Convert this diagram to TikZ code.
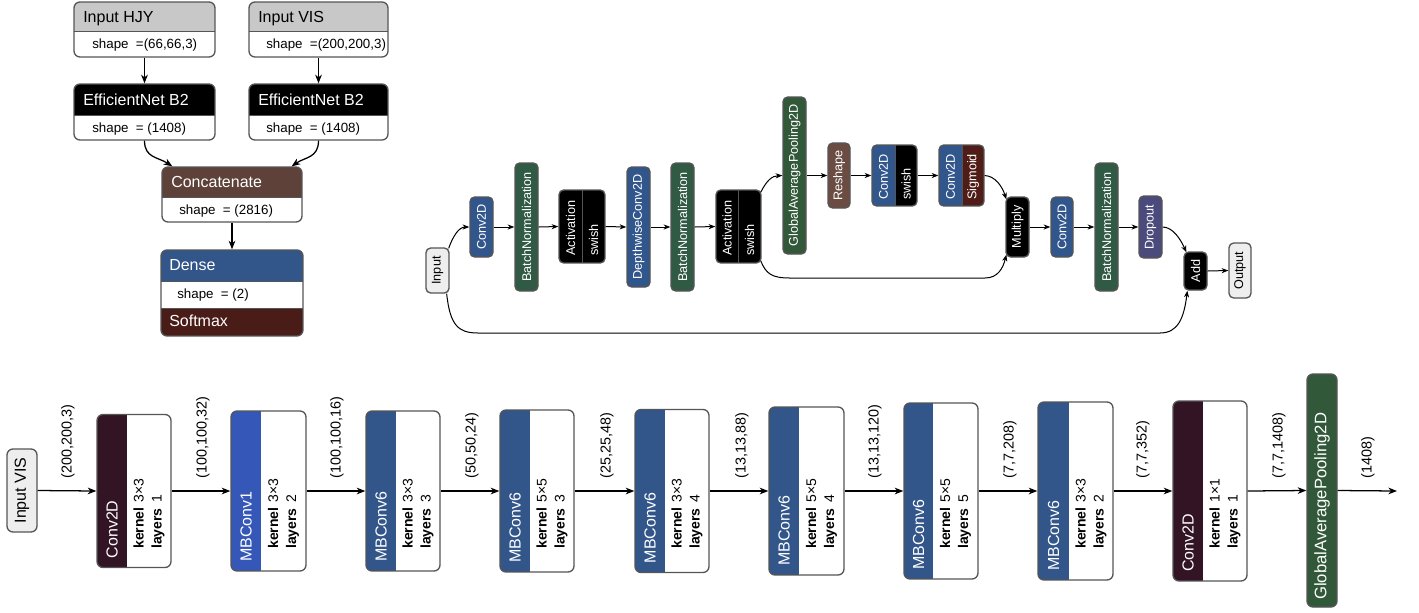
\documentclass[tikz,border=0pt]{standalone}
\usepackage{fontspec}
\setmainfont{Liberation Sans}
\usetikzlibrary{fit,arrows.meta,calc}
\definecolor{hdrgray}{HTML}{C8C8C8}
\definecolor{bordergray}{HTML}{555555}
\definecolor{concatbrown}{HTML}{5E4239}
\definecolor{denseblue}{HTML}{32558A}
\definecolor{softred}{HTML}{4A1C17}
\definecolor{midblue}{HTML}{31568C}
\definecolor{bngreen}{HTML}{305A44}
\definecolor{gapgreen}{HTML}{32583A}
\definecolor{reshapebrown}{HTML}{6B4C43}
\definecolor{sigred}{HTML}{4F1C17}
\definecolor{droppurple}{HTML}{4A4A7C}
\definecolor{iogray}{HTML}{EEEEEE}
\definecolor{convpurple}{HTML}{321424}
\definecolor{mboneblue}{HTML}{3558B8}
\definecolor{mbsixblue}{HTML}{32568A}

% top-left box: #1 name, #2 header colour, #3 x1, #4 y1, #5 x2, #6 y2, #7 split y
\newcommand\tlbox[7]{%
  \begin{scope}
    \clip[rounded corners=4.5pt] (#3,#4) rectangle (#5,#6);
    \fill[white] (#3,#4) rectangle (#5,#6);
    \fill[#2] (#3,#4) rectangle (#5,#7);
  \end{scope}
  \draw[sepline] (#3,#7) -- (#5,#7);
  \node[boxframe,rounded corners=4.5pt,fit={(#3,#4) (#5,#6)}] (#1) {};
}
% middle single box: #1 name, #2 colour, #3 x1, #4 y1, #5 x2, #6 y2, #7 text
\newcommand\mbx[7]{%
  \node[boxframe,rounded corners=3.5pt,fill=#2,fit={(#3,#4) (#5,#6)}] (#1) {};
  \node[midtxt] (#1-t) at (#1.center) {#7};
}
% middle two-part box: #1 name, #2 left colour, #3 right colour, #4 x1, #5 y1, #6 x2, #7 y2, #8 split x
\newcommand\mtwo[8]{%
  \begin{scope}
    \clip[rounded corners=3.5pt] (#4,#5) rectangle (#6,#7);
    \fill[#2] (#4,#5) rectangle (#8,#7);
    \fill[#3] (#8,#5) rectangle (#6,#7);
  \end{scope}
  \draw[sepline] (#8,#5) -- (#8,#7);
  \node[boxframe,rounded corners=3.5pt,fit={(#4,#5) (#6,#7)}] (#1) {};
}
% bottom box: #1 name, #2 colour, #3 x1, #4 x2, #5 split x, #6 half height, #7 label, #8 kernel, #9 layers
\newcommand\bbx[9]{%
  \begin{scope}
    \clip[rounded corners=4.5pt] (#3,491-#6) rectangle (#4,491+#6);
    \fill[white] (#3,491-#6) rectangle (#4,491+#6);
    \fill[#2] (#3,491-#6) rectangle (#5,491+#6);
  \end{scope}
  \node[boxframe,rounded corners=4.5pt,fit={(#3,491-#6) (#4,491+#6)}] (#1) {};
  \node[blabel] (#1-l) at ({(#3+#5)/2},{491+#6-9}) {#7};
  \node[btab] (#1-t) at ({(#5+#4)/2},549) {\begin{tabular}{@{}l@{\hspace{4pt}}l@{}}\textbf{kernel} & #8\\ \textbf{layers} & #9\end{tabular}};
}

\begin{document}
\begin{tikzpicture}[x=0.75pt,y=-0.75pt,
  boxframe/.style={draw=bordergray,line width=1pt,inner sep=0pt},
  sepline/.style={draw=bordergray,line width=0.6pt},
  arr/.style={draw=black,line width=0.95pt,-{Stealth[length=6.5pt,width=5pt,inset=2pt]}},
  marr/.style={draw=black,line width=0.75pt,-{Stealth[length=5pt,width=3.8pt,inset=1.5pt]}},
  tltitle/.style={anchor=base west,inner sep=0pt,font=\fontsize{12}{14}\selectfont},
  tlshape/.style={anchor=base west,inner sep=0pt,font=\fontsize{10}{12}\selectfont},
  midtxt/.style={rotate=90,inner sep=0pt,text=white,font=\fontsize{9.5}{11}\selectfont},
  blabel/.style={rotate=90,anchor=west,inner sep=0pt,text=white,font=\fontsize{12}{14}\selectfont},
  btab/.style={rotate=90,anchor=west,inner sep=0pt,font=\fontsize{10.5}{13.5}\selectfont},
  dimlbl/.style={rotate=90,anchor=west,inner sep=0pt,font=\fontsize{10.8}{13}\selectfont}]
\useasboundingbox (0,0) rectangle (1419,612);

% ================= top-left =================
\tlbox{hjy}{hdrgray}{74}{2}{215}{57}{31}
\node[tltitle] (hjy-t) at (83,22) {Input HJY};
\node[tlshape] (hjy-s) at (92,48) {shape~~=(66,66,3)};

\tlbox{visin}{hdrgray}{249}{2}{388}{57}{31}
\node[tltitle] (visin-t) at (258,22) {Input VIS};
\node[tlshape] (visin-s) at (266,48) {shape~~=(200,200,3)};

\tlbox{effA}{black}{74}{84}{215}{140}{115}
\node[tltitle,text=white] (effA-t) at (83,105) {EfficientNet B2};
\node[tlshape] (effA-s) at (92,132) {shape~~= (1408)};

\tlbox{effB}{black}{249}{84}{388}{140}{115}
\node[tltitle,text=white] (effB-t) at (258,105) {EfficientNet B2};
\node[tlshape] (effB-s) at (266,132) {shape~~= (1408)};

\tlbox{concat}{concatbrown}{162}{167}{302}{222}{197}
\node[tltitle,text=white] (concat-t) at (171,187) {Concatenate};
\node[tlshape] (concat-s) at (179,214) {shape~~= (2816)};

\begin{scope}
  \clip[rounded corners=4.5pt] (161,250) rectangle (303,336);
  \fill[white] (161,250) rectangle (303,336);
  \fill[denseblue] (161,250) rectangle (303,281);
  \fill[softred] (161,308) rectangle (303,336);
\end{scope}
\draw[sepline] (161,281) -- (303,281);
\draw[sepline] (161,308) -- (303,308);
\node[boxframe,rounded corners=4.5pt,fit={(161,250) (303,336)}] (dense) {};
\node[tltitle,text=white] (dense-t) at (169,270) {Dense};
\node[tlshape] (dense-s) at (177,298) {shape~~= (2)};
\node[tltitle,text=white] (dense-a) at (169,326) {Softmax};

\draw[arr] (hjy.south) -- (effA.north);
\draw[arr] (visin.south) -- (effB.north);
\draw[arr] (effA.south) .. controls (144.5,158) and (158,157) .. ($(concat.north west)+(11,0)$);
\draw[arr] (effB.south) .. controls (318.5,158) and (305,157) .. ($(concat.north east)+(-11,0)$);
\draw[arr] (concat.south) -- (dense.north);

% ================= middle block =================
\node[boxframe,rounded corners=3.5pt,fill=iogray,fit={(426,248) (449,293)}] (inp) {};
\node[midtxt,text=black] (inp-t) at (inp.center) {Input};
\mbx{cA}{midblue}{470}{197}{493}{257}{Conv2D}
\mbx{bnA}{bngreen}{515}{163}{538}{291}{BatchNormalization}
\mtwo{actA}{black}{black}{559}{190}{605}{263}{582}
\node[midtxt,anchor=west] (actA-a) at (570.5,256) {Activation};
\node[midtxt,anchor=west] (actA-b) at (593.5,256) {swish};
\mbx{dw}{midblue}{627}{167}{650}{287}{DepthwiseConv2D}
\mbx{bnB}{bngreen}{671}{163}{694}{291}{BatchNormalization}
\mtwo{actB}{black}{black}{716}{190}{761}{263}{738}
\node[midtxt,anchor=west] (actB-a) at (727,256) {Activation};
\node[midtxt,anchor=west] (actB-b) at (749.5,256) {swish};
\mbx{gapA}{gapgreen}{783}{97}{806}{254}{GlobalAveragePooling2D}
\mbx{resh}{reshapebrown}{828}{143}{850}{208}{Reshape}
\mtwo{seA}{midblue}{black}{872}{145}{917}{206}{895}
\node[midtxt,anchor=west] (seA-a) at (883.5,200) {Conv2D};
\node[midtxt,anchor=west] (seA-b) at (906,200) {swish};
\mtwo{seB}{midblue}{sigred}{939}{145}{984}{206}{962}
\node[midtxt,anchor=west] (seB-a) at (950.5,200) {Conv2D};
\node[midtxt,anchor=west] (seB-b) at (973,200) {Sigmoid};
\mbx{mul}{black}{1006}{197}{1029}{257}{Multiply}
\mbx{cB}{midblue}{1051}{197}{1073}{257}{Conv2D}
\mbx{bnC}{bngreen}{1095}{163}{1118}{291}{BatchNormalization}
\mbx{drop}{droppurple}{1139}{196}{1162}{258}{Dropout}
\mbx{add}{black}{1184}{252}{1207}{290}{Add}
\node[boxframe,rounded corners=3.5pt,fill=iogray,fit={(1229,243) (1251,298)}] (outp) {};
\node[midtxt,text=black] (outp-t) at (outp.center) {Output};

\draw[marr] ($(inp.north east)+(-1,1)$) .. controls (453,236) and (459,227) .. (cA.west);
\draw[marr] (cA.east) -- (bnA.west);
\draw[marr] (bnA.east) -- (actA.west);
\draw[marr] (actA.east) -- (dw.west);
\draw[marr] (dw.east) -- (bnB.west);
\draw[marr] (bnB.east) -- (actB.west);
\draw[marr] ($(actB.north east)+(-1,3)$) .. controls (767,180) and (772,176) .. (gapA.west);
\draw[marr] (gapA.east) -- (resh.west);
\draw[marr] (resh.east) -- (seA.west);
\draw[marr] (seA.east) -- (seB.west);
\draw[marr] (seB.east) .. controls (995,176) and (1002,186) .. ($(mul.north west)+(1,3)$);
\draw[marr] ($(actB.south east)+(-1,-3)$) .. controls (766,274) and (772,278) .. (790,278) -- (985,278) .. controls (998,278) and (1003,268) .. ($(mul.south west)+(1,-3)$);
\draw[marr] (mul.east) -- (cB.west);
\draw[marr] (cB.east) -- (bnC.west);
\draw[marr] (bnC.east) -- (drop.west);
\draw[marr] (drop.east) .. controls (1173,227) and (1181,240) .. ($(add.north west)+(3,1)$);
\draw[marr] (add.east) -- (outp.west);
\draw[marr] ($(inp.south east)+(-3,0)$) .. controls (450,325) and (458,333) .. (478,333) -- (1160,333) .. controls (1178,333) and (1184,318) .. ($(add.south west)+(4,0)$);

% ================= bottom row =================
\node[boxframe,rounded corners=4.5pt,fill=iogray,fit={(7,449) (37,532)}] (invis) {};
\node[rotate=90,inner sep=0pt,font=\fontsize{12}{14}\selectfont] (invis-t) at (invis.center) {Input VIS};

\bbx{bA}{convpurple}{97}{171}{127}{76.5}{Conv2D}{3×3}{1}
\bbx{bB}{mboneblue}{231}{306}{261}{80}{MBConv1}{3×3}{2}
\bbx{bC}{mbsixblue}{366}{440}{396}{80}{MBConv6}{3×3}{3}
\bbx{bD}{mbsixblue}{500}{574}{530}{81}{MBConv6}{5×5}{3}
\bbx{bE}{mbsixblue}{635}{709}{665}{81.5}{MBConv6}{3×3}{4}
\bbx{bF}{mbsixblue}{769}{844}{799}{84}{MBConv6}{5×5}{4}
\bbx{bG}{mbsixblue}{904}{978}{933}{88}{MBConv6}{5×5}{5}
\bbx{bH}{mbsixblue}{1038}{1113}{1069}{89}{MBConv6}{3×3}{2}
\bbx{bI}{convpurple}{1173}{1247}{1203}{90}{Conv2D}{1×1}{1}
\node[boxframe,rounded corners=4.5pt,fill=gapgreen,fit={(1307,374) (1337,607)}] (gapB) {};
\node[blabel,font=\fontsize{12.5}{14}\selectfont] (gapB-t) at (1322,600) {GlobalAveragePooling2D};
\coordinate (endpt) at (1397,491);

\draw[arr] (invis.east) -- (bA.west);
\draw[arr] (bA.east) -- (bB.west);
\draw[arr] (bB.east) -- (bC.west);
\draw[arr] (bC.east) -- (bD.west);
\draw[arr] (bD.east) -- (bE.west);
\draw[arr] (bE.east) -- (bF.west);
\draw[arr] (bF.east) -- (bG.west);
\draw[arr] (bG.east) -- (bH.west);
\draw[arr] (bH.east) -- (bI.west);
\draw[arr] (bI.east) -- (gapB.west);
\draw[arr] (gapB.east) -- (endpt);

\node[dimlbl] (dA) at (68,479) {(200,200,3)};
\node[dimlbl] (dB) at (203,479) {(100,100,32)};
\node[dimlbl] (dC) at (337,479) {(100,100,16)};
\node[dimlbl] (dD) at (472,479) {(50,50,24)};
\node[dimlbl] (dE) at (607,479) {(25,25,48)};
\node[dimlbl] (dF) at (742,479) {(13,13,88)};
\node[dimlbl] (dG) at (875,479) {(13,13,120)};
\node[dimlbl] (dH) at (1010,479) {(7,7,208)};
\node[dimlbl] (dI) at (1143,479) {(7,7,352)};
\node[dimlbl] (dJ) at (1279,479) {(7,7,1408)};
\node[dimlbl] (dK) at (1368,479) {(1408)};
\end{tikzpicture}
\end{document}
